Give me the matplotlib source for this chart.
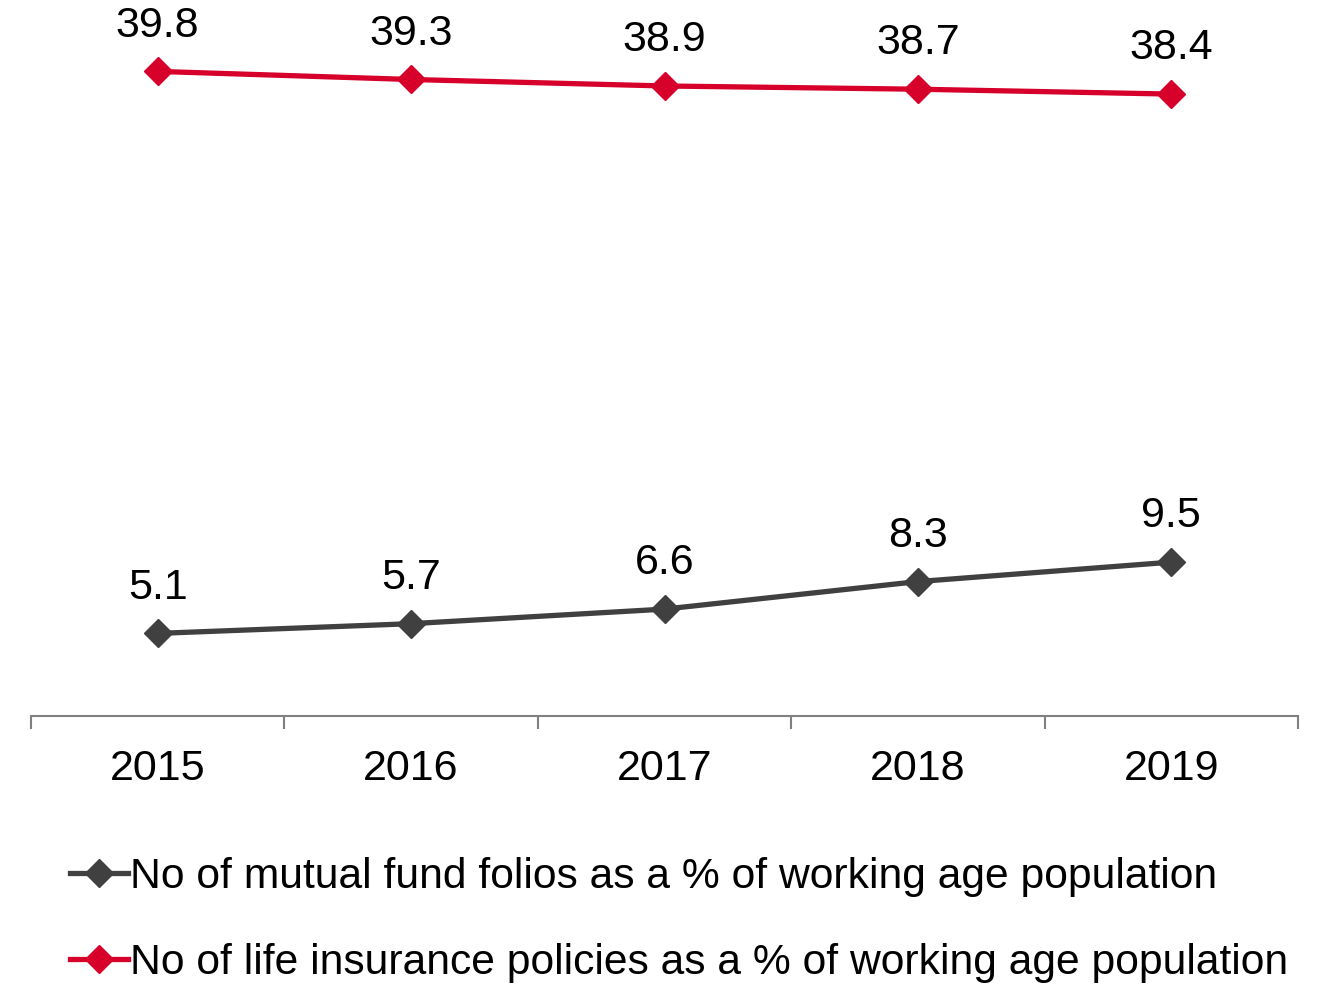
import matplotlib
matplotlib.use("Agg")
import matplotlib.pyplot as plt

years = ["2015", "2016", "2017", "2018", "2019"]
mutual_fund = [5.1, 5.7, 6.6, 8.3, 9.5]
life_insurance = [39.8, 39.3, 38.9, 38.7, 38.4]

mf_label = "No of mutual fund folios as a % of working age population"
li_label = "No of life insurance policies as a % of working age population"

GRAY = "#404040"
RED = "#D6002A"

plt.rcParams['font.family'] = ['Liberation Sans', 'DejaVu Sans']

fig = plt.figure(figsize=(13.19, 9.84), dpi=100)
ax = fig.add_axes([31/1319, (984-716)/984, (1298-31)/1319, 716/984])

x = list(range(len(years)))
ax.plot(x, mutual_fund, color=GRAY, lw=3.8, marker="D", ms=14, label=mf_label)
ax.plot(x, life_insurance, color=RED, lw=3.8, marker="D", ms=14, label=li_label)

for xi, v in zip(x, mutual_fund):
    ax.annotate(f"{v}", (xi, v), xytext=(0, 33), textcoords="offset points",
                ha="center", va="center", fontsize=31)
for xi, v in zip(x, life_insurance):
    ax.annotate(f"{v}", (xi, v), xytext=(0, 33), textcoords="offset points",
                ha="center", va="center", fontsize=31)

ax.set_xlim(-0.5, 4.5)
ax.set_ylim(0, 716/16.196)
ax.set_yticks([])
for s in ["top", "right", "left"]:
    ax.spines[s].set_visible(False)
ax.spines["bottom"].set_color("#808080")
ax.spines["bottom"].set_linewidth(1.5)

# category boundaries as ticks, labels in the middle
ax.set_xticks([i - 0.5 for i in range(len(years) + 1)])
ax.set_xticklabels([])
ax.set_xticks(x, minor=True)
ax.set_xticklabels(years, minor=True, fontsize=31)
ax.tick_params(axis="x", which="major", direction="out", length=9, width=1.5, color="#808080")
ax.tick_params(axis="x", which="minor", length=0, pad=24)

fig.legend(loc="center left", bbox_to_anchor=(70/1319, (984-920)/984),
           frameon=False, fontsize=30.7, numpoints=1, handlelength=1.35,
           handletextpad=0.05, labelspacing=1.07, borderpad=0, borderaxespad=0)

fig.savefig("out.png", dpi=100)
